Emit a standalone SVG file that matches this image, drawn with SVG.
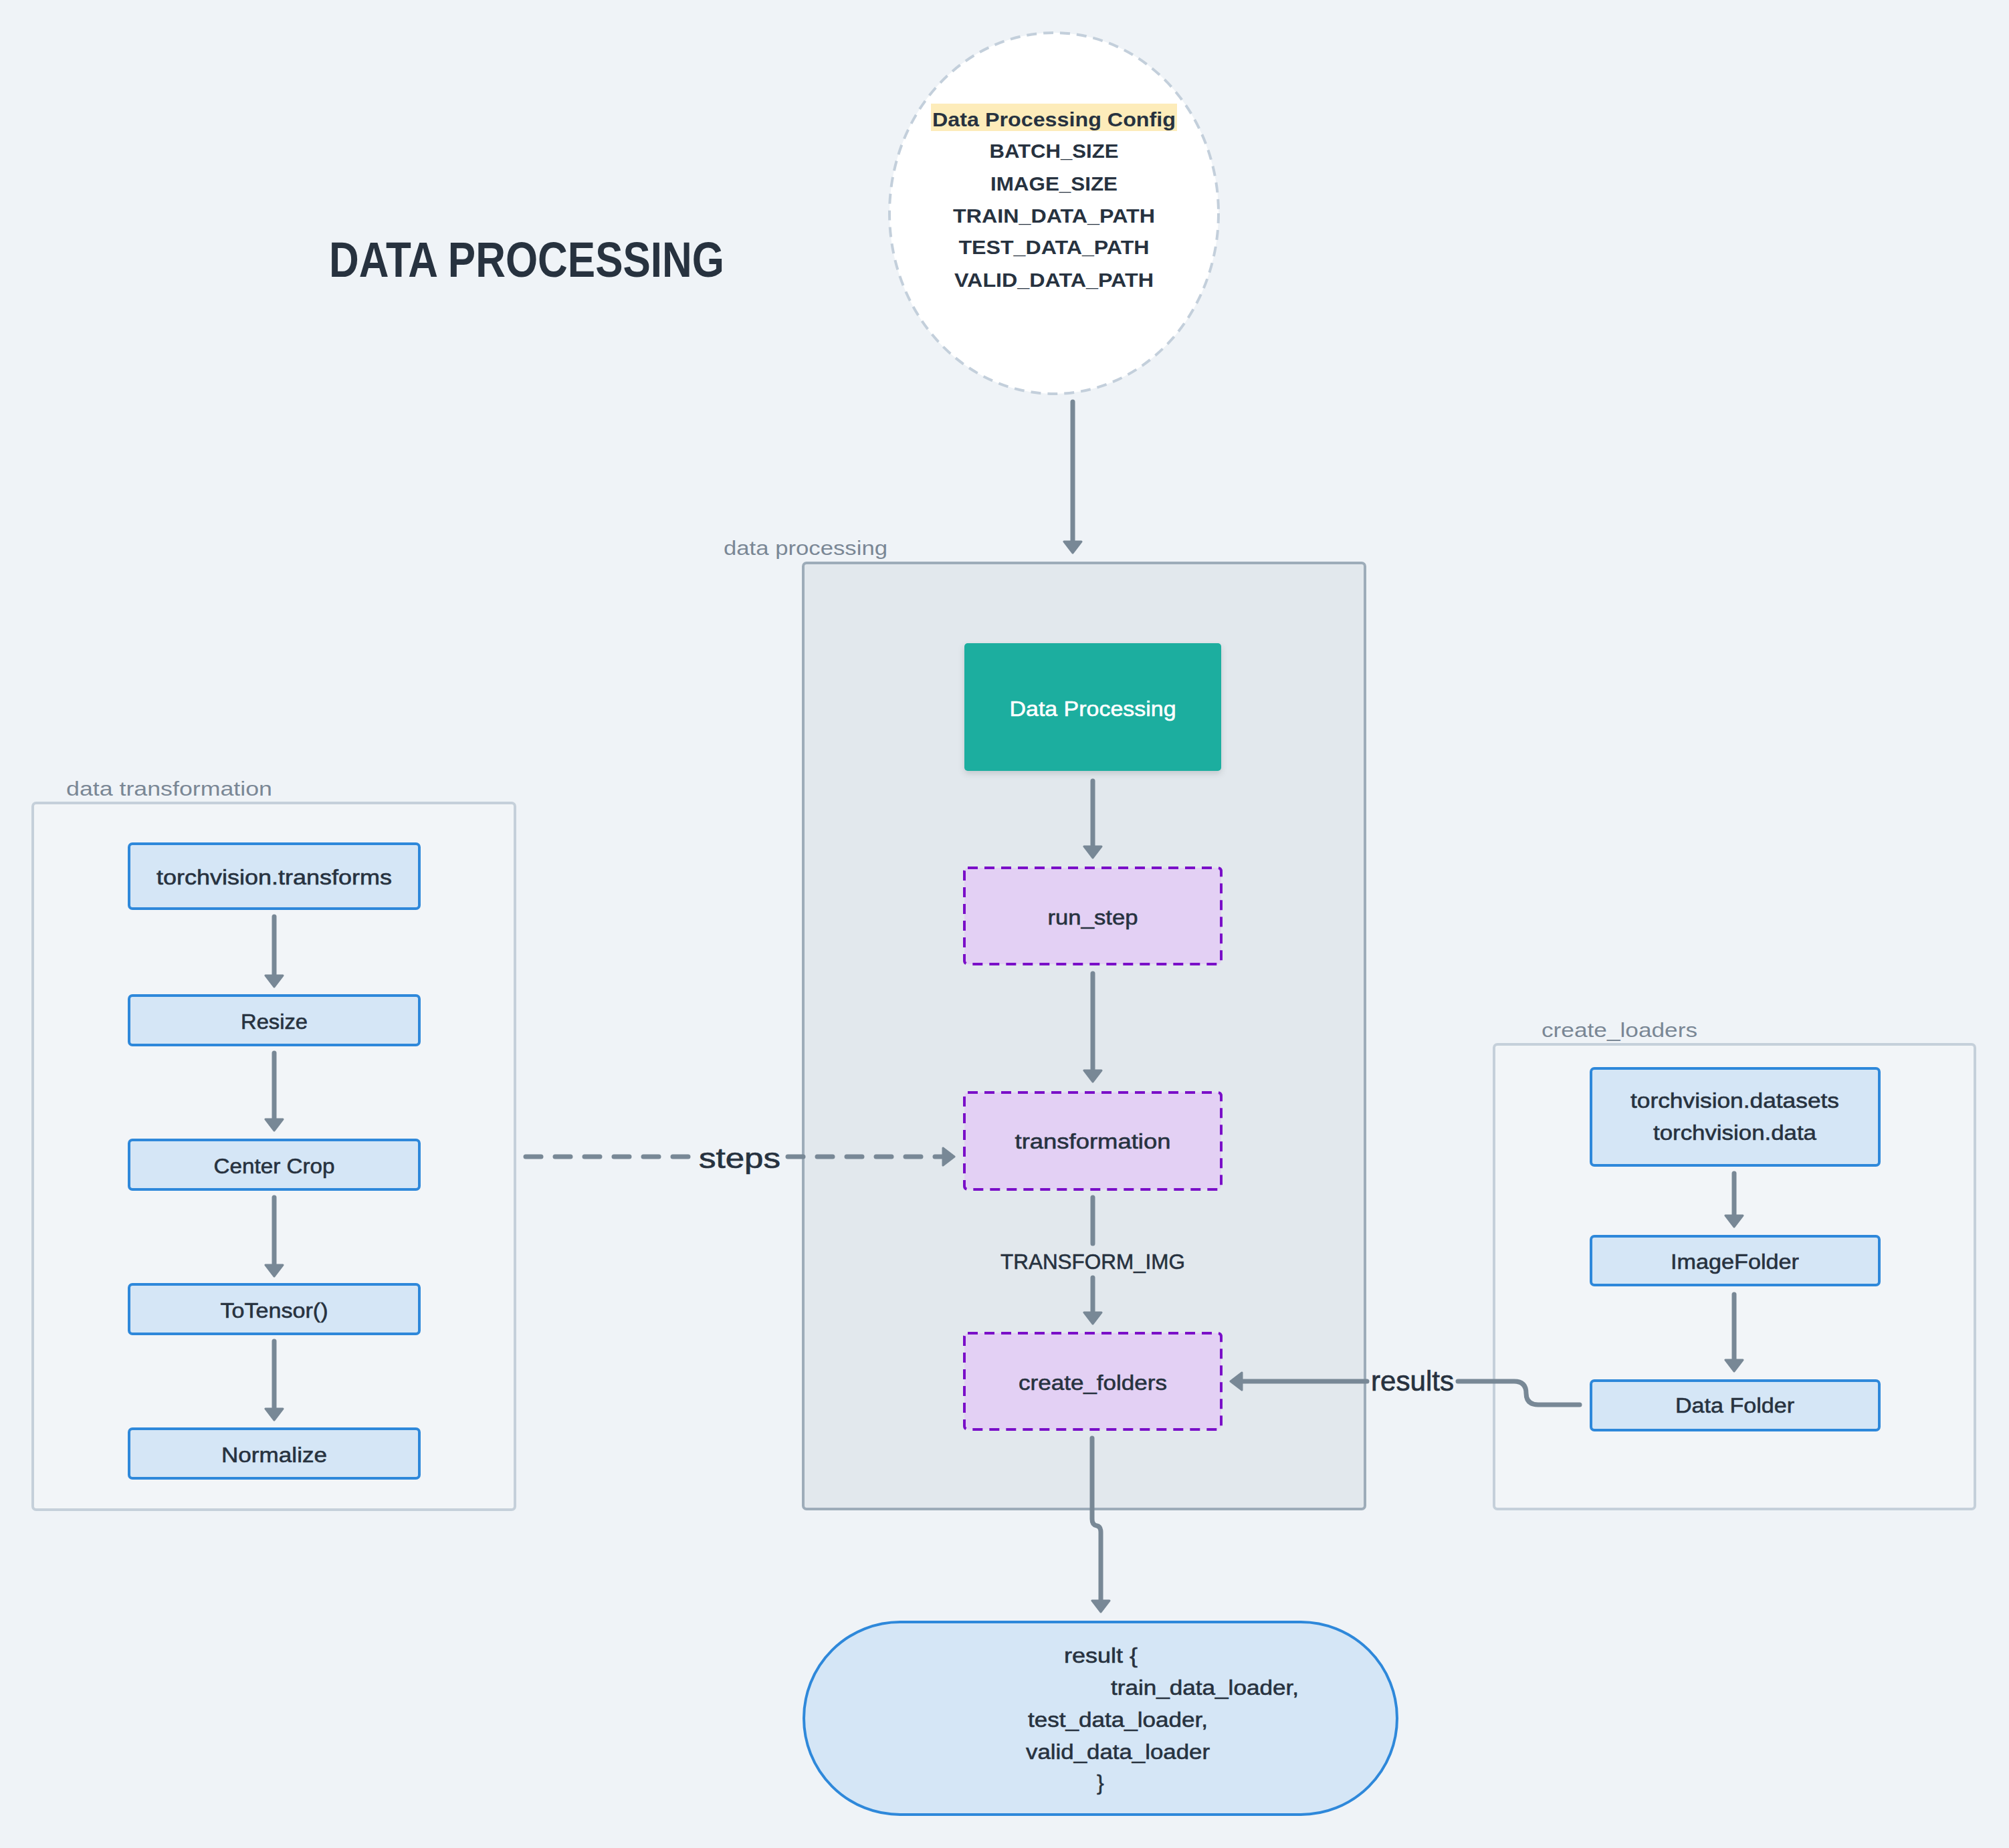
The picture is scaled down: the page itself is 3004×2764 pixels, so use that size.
<svg xmlns="http://www.w3.org/2000/svg" width="3004" height="2764" viewBox="0 0 3004 2764">
  <style>
    text { font-family: "Liberation Sans", Arial, sans-serif; fill: #27323f; }
    .lbl { font-size: 32px; text-anchor: middle; stroke: #27323f; stroke-width: 0.6; }
    .grp { font-size: 30px; fill: #7a8795; }
    .cfg { font-size: 30px; font-weight: bold; text-anchor: middle; }
    .edge-lbl { font-size: 42px; stroke: #27323f; stroke-width: 0.7; }
    .blue { fill: #d5e6f6; stroke: #2e88da; stroke-width: 4; }
    .purple { fill: #e3d0f4; stroke: #7a0fc8; stroke-width: 4; stroke-dasharray: 15 10; }
    .wire { fill: none; stroke: #788896; stroke-width: 7; stroke-linecap: round; stroke-linejoin: round; marker-end: url(#head); }
  </style>
  <defs>
    <marker id="head" markerUnits="userSpaceOnUse" markerWidth="22" markerHeight="30" viewBox="0 0 22 30" refX="2" refY="15" orient="auto">
      <path d="M2,2 L19,15 L2,28 Z" fill="#788896" stroke="#788896" stroke-width="3" stroke-linejoin="round"/>
    </marker>
    <filter id="lift" x="-10%" y="-10%" width="120%" height="130%">
      <feDropShadow dx="0" dy="4" stdDeviation="5" flood-color="#000" flood-opacity="0.14"/>
    </filter>
  </defs>

  <rect width="3004" height="2764" fill="#eff3f7"/>

  <!-- heading -->
  <text x="492" y="414" font-size="74" font-weight="bold" fill="#263442" textLength="591" lengthAdjust="spacingAndGlyphs">DATA PROCESSING</text>

  <!-- configuration bubble -->
  <g id="config">
    <ellipse cx="1576" cy="319" rx="246" ry="270" fill="#ffffff" stroke="#c3cfdb" stroke-width="4" stroke-dasharray="15 10"/>
    <rect x="1392" y="155" width="368" height="41" fill="#fdecba"/>
    <text class="cfg" x="1576" y="189" textLength="364" lengthAdjust="spacingAndGlyphs">Data Processing Config</text>
    <text class="cfg" x="1576" y="236" textLength="193" lengthAdjust="spacingAndGlyphs">BATCH_SIZE</text>
    <text class="cfg" x="1576" y="285" textLength="190" lengthAdjust="spacingAndGlyphs">IMAGE_SIZE</text>
    <text class="cfg" x="1576" y="333" textLength="302" lengthAdjust="spacingAndGlyphs">TRAIN_DATA_PATH</text>
    <text class="cfg" x="1576" y="380" textLength="285" lengthAdjust="spacingAndGlyphs">TEST_DATA_PATH</text>
    <text class="cfg" x="1576" y="429" textLength="298" lengthAdjust="spacingAndGlyphs">VALID_DATA_PATH</text>
  </g>

  <!-- group frames -->
  <g id="data-transformation">
    <rect x="49" y="1201" width="721" height="1057" rx="5" fill="#f2f5f8" stroke="#c5d0da" stroke-width="4"/>
    <text class="grp" x="99" y="1190" textLength="308" lengthAdjust="spacingAndGlyphs">data transformation</text>
  </g>
  <g id="data-processing">
    <rect x="1201" y="842" width="840" height="1415" rx="5" fill="#e2e8ed" stroke="#9dacb9" stroke-width="4"/>
    <text class="grp" x="1082" y="830" textLength="245" lengthAdjust="spacingAndGlyphs">data processing</text>
  </g>
  <g id="create-loaders">
    <rect x="2234" y="1562" width="719" height="695" rx="5" fill="#f2f5f8" stroke="#c5d0da" stroke-width="4"/>
    <text class="grp" x="2305" y="1551" textLength="233" lengthAdjust="spacingAndGlyphs">create_loaders</text>
  </g>

  <!-- transforms column -->
  <g id="torchvision-transforms">
    <rect class="blue" x="193" y="1262" width="434" height="97" rx="5"/>
    <text class="lbl" x="410" y="1323" textLength="352" lengthAdjust="spacingAndGlyphs">torchvision.transforms</text>
  </g>
  <g id="resize">
    <rect class="blue" x="193" y="1489" width="434" height="74" rx="5"/>
    <text class="lbl" x="410" y="1539" textLength="100" lengthAdjust="spacingAndGlyphs">Resize</text>
  </g>
  <g id="center-crop">
    <rect class="blue" x="193" y="1705" width="434" height="74" rx="5"/>
    <text class="lbl" x="410" y="1755" textLength="181" lengthAdjust="spacingAndGlyphs">Center Crop</text>
  </g>
  <g id="to-tensor">
    <rect class="blue" x="193" y="1921" width="434" height="74" rx="5"/>
    <text class="lbl" x="410" y="1971" textLength="161" lengthAdjust="spacingAndGlyphs">ToTensor()</text>
  </g>
  <g id="normalize">
    <rect class="blue" x="193" y="2137" width="434" height="74" rx="5"/>
    <text class="lbl" x="410" y="2187" textLength="158" lengthAdjust="spacingAndGlyphs">Normalize</text>
  </g>

  <!-- processing column -->
  <g id="data-processing-node">
    <rect x="1442" y="962" width="384" height="191" rx="5" fill="#1aae9f" filter="url(#lift)"/>
    <text class="lbl" x="1634" y="1071" style="fill:#ffffff;stroke:#ffffff" textLength="249" lengthAdjust="spacingAndGlyphs">Data Processing</text>
  </g>
  <g id="run-step">
    <rect class="purple" x="1442" y="1298" width="384" height="144" rx="5"/>
    <text class="lbl" x="1634" y="1383" textLength="135" lengthAdjust="spacingAndGlyphs">run_step</text>
  </g>
  <g id="transformation">
    <rect class="purple" x="1442" y="1634" width="384" height="145" rx="5"/>
    <text class="lbl" x="1634" y="1718" textLength="233" lengthAdjust="spacingAndGlyphs">transformation</text>
  </g>
  <g id="create-folders">
    <rect class="purple" x="1442" y="1994" width="384" height="144" rx="5"/>
    <text class="lbl" x="1634" y="2079" textLength="222" lengthAdjust="spacingAndGlyphs">create_folders</text>
  </g>

  <!-- loaders column -->
  <g id="torchvision-datasets">
    <rect class="blue" x="2379" y="1598" width="431" height="145" rx="5"/>
    <text class="lbl" x="2594" y="1657" textLength="312" lengthAdjust="spacingAndGlyphs">torchvision.datasets</text>
    <text class="lbl" x="2594" y="1705" textLength="244" lengthAdjust="spacingAndGlyphs">torchvision.data</text>
  </g>
  <g id="image-folder">
    <rect class="blue" x="2379" y="1849" width="431" height="73" rx="5"/>
    <text class="lbl" x="2594" y="1898" textLength="192" lengthAdjust="spacingAndGlyphs">ImageFolder</text>
  </g>
  <g id="data-folder">
    <rect class="blue" x="2379" y="2065" width="431" height="74" rx="5"/>
    <text class="lbl" x="2594" y="2113" textLength="178" lengthAdjust="spacingAndGlyphs">Data Folder</text>
  </g>

  <!-- result terminator -->
  <g id="result">
    <rect class="blue" x="1202" y="2426" width="887" height="288" rx="144"/>
    <text class="lbl" x="1591" y="2487" style="text-anchor:start" textLength="110" lengthAdjust="spacingAndGlyphs">result {</text>
    <text class="lbl" x="1661" y="2535" style="text-anchor:start" textLength="281" lengthAdjust="spacingAndGlyphs">train_data_loader,</text>
    <text class="lbl" x="1537" y="2583" style="text-anchor:start" textLength="269" lengthAdjust="spacingAndGlyphs">test_data_loader,</text>
    <text class="lbl" x="1534" y="2631" style="text-anchor:start" textLength="275" lengthAdjust="spacingAndGlyphs">valid_data_loader</text>
    <text class="lbl" x="1640" y="2677" style="text-anchor:start">}</text>
  </g>

  <!-- connectors -->
  <g id="connectors">
    <path class="wire" d="M1604,601 V810"/>
    <path class="wire" d="M1634,1168 V1266"/>
    <path class="wire" d="M1634,1456 V1601"/>
    <path class="wire" d="M1634,1791 V1860 M1634,1911 V1963"/>
    <text class="lbl" x="1634" y="1898" textLength="276" lengthAdjust="spacingAndGlyphs">TRANSFORM_IMG</text>
    <path class="wire" d="M1633,2151 V2272 Q1633,2281 1640,2282 Q1646,2283 1646,2292 V2394"/>

    <path class="wire" d="M410,1371 V1459"/>
    <path class="wire" d="M410,1575 V1674"/>
    <path class="wire" d="M410,1791 V1892"/>
    <path class="wire" d="M410,2006 V2107"/>

    <path class="wire" d="M2593,1755 V1818"/>
    <path class="wire" d="M2593,1936 V2034"/>

    <path class="wire" d="M786,1730 H1034 M1178,1730 H1410" stroke-width="8" stroke-dasharray="23 21"/>
    <text class="edge-lbl" x="1045" y="1747" textLength="122" lengthAdjust="spacingAndGlyphs">steps</text>

    <path class="wire" d="M2362,2101 H2300 Q2282,2101 2282,2084 Q2282,2066 2264,2066 H2180 M2044,2066 H1857"/>
    <text class="edge-lbl" x="2050" y="2080" textLength="124" lengthAdjust="spacingAndGlyphs">results</text>
  </g>
</svg>
